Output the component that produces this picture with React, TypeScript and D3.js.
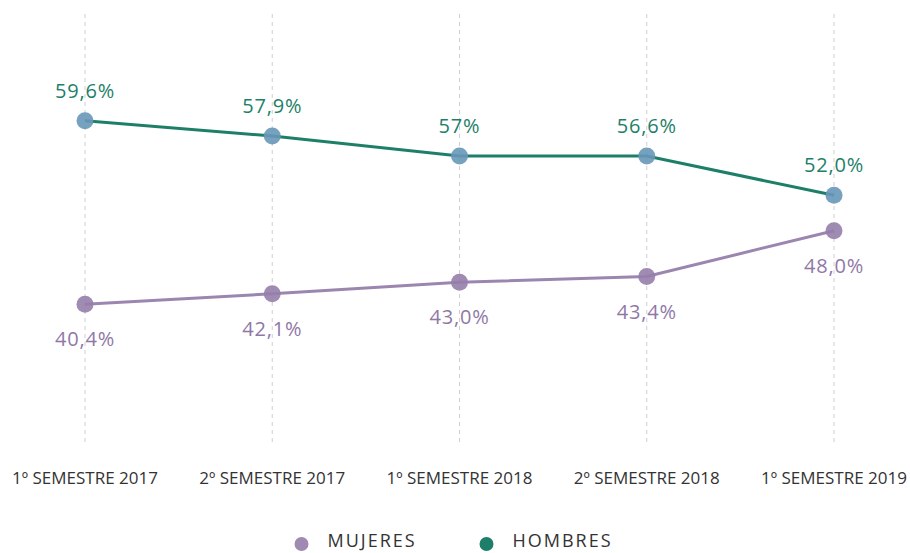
import React from "react";
import * as d3 from "d3";

const categories = [
  "1º SEMESTRE 2017",
  "2º SEMESTRE 2017",
  "1º SEMESTRE 2018",
  "2º SEMESTRE 2018",
  "1º SEMESTRE 2019",
];
const hombresValues = [59.6, 58.0, 55.9, 55.9, 51.8];
const mujeresValues = [40.4, 41.5, 42.7, 43.3, 48.1];
const hombresLabels = ["59,6%", "57,9%", "57%", "56,6%", "52,0%"];
const mujeresLabels = ["40,4%", "42,1%", "43,0%", "43,4%", "48,0%"];
const legendItems = ["MUJERES", "HOMBRES"];

const W = 910;
const H = 553;
const GREEN = "#1e7f69";
const PURPLE = "#9b86b0";
const FONT = "'Open Sans', sans-serif";

export default function App() {
  const x = d3.scalePoint<string>().domain(categories).range([85, 834]);
  const y = d3.scaleLinear().domain([26, 70]).range([442, 21.25]);

  const line = d3
    .line<number>()
    .x((_, i) => x(categories[i]) as number)
    .y((d) => y(d));

  return (
    <svg
      width={W}
      height={H}
      style={{ position: "absolute", left: 0, top: 0, background: "#fff" }}
    >
      {categories.map((c) => (
        <line
          key={"g" + c}
          x1={x(c)}
          x2={x(c)}
          y1={14}
          y2={443}
          stroke="#cfcfcf"
          strokeWidth={1}
          strokeDasharray="4,4"
        />
      ))}
      {categories.map((c) => (
        <text
          key={"t" + c}
          x={x(c)}
          y={484}
          textAnchor="middle"
          fontFamily={FONT}
          fontSize={17}
          fill="#333"
        >
          {c}
        </text>
      ))}

      <path d={line(mujeresValues) || ""} fill="none" stroke={PURPLE} strokeWidth={3} />
      <path d={line(hombresValues) || ""} fill="none" stroke={GREEN} strokeWidth={3} />

      {mujeresValues.map((v, i) => (
        <circle
          key={"m" + i}
          cx={x(categories[i])}
          cy={y(v)}
          r={8.5}
          fill="#967eab"
          fillOpacity={0.9}
        />
      ))}
      {hombresValues.map((v, i) => (
        <circle
          key={"h" + i}
          cx={x(categories[i])}
          cy={y(v)}
          r={8.5}
          fill="#6797b8"
          fillOpacity={0.9}
        />
      ))}

      {hombresValues.map((v, i) => (
        <text
          key={"hl" + i}
          x={x(categories[i])}
          y={y(v) - 23}
          textAnchor="middle"
          fontFamily={FONT}
          fontSize={20}
          letterSpacing={0.8}
          fill={GREEN}
        >
          {hombresLabels[i]}
        </text>
      ))}
      {mujeresValues.map((v, i) => (
        <text
          key={"ml" + i}
          x={x(categories[i])}
          y={y(v) + 42}
          textAnchor="middle"
          fontFamily={FONT}
          fontSize={20}
          letterSpacing={0.8}
          fill="#8f78a7"
        >
          {mujeresLabels[i]}
        </text>
      ))}

      {legendItems.map((name, i) => (
        <g key={name} transform={`translate(${301.5 + i * 185},544)`}>
          <circle r={7} fill={i === 0 ? "#a08ab3" : GREEN} />
          <text
            x={26}
            y={3}
            fontFamily={FONT}
            fontSize={18}
            fill="#333"
            letterSpacing={2}
          >
            {name}
          </text>
        </g>
      ))}
    </svg>
  );
}
